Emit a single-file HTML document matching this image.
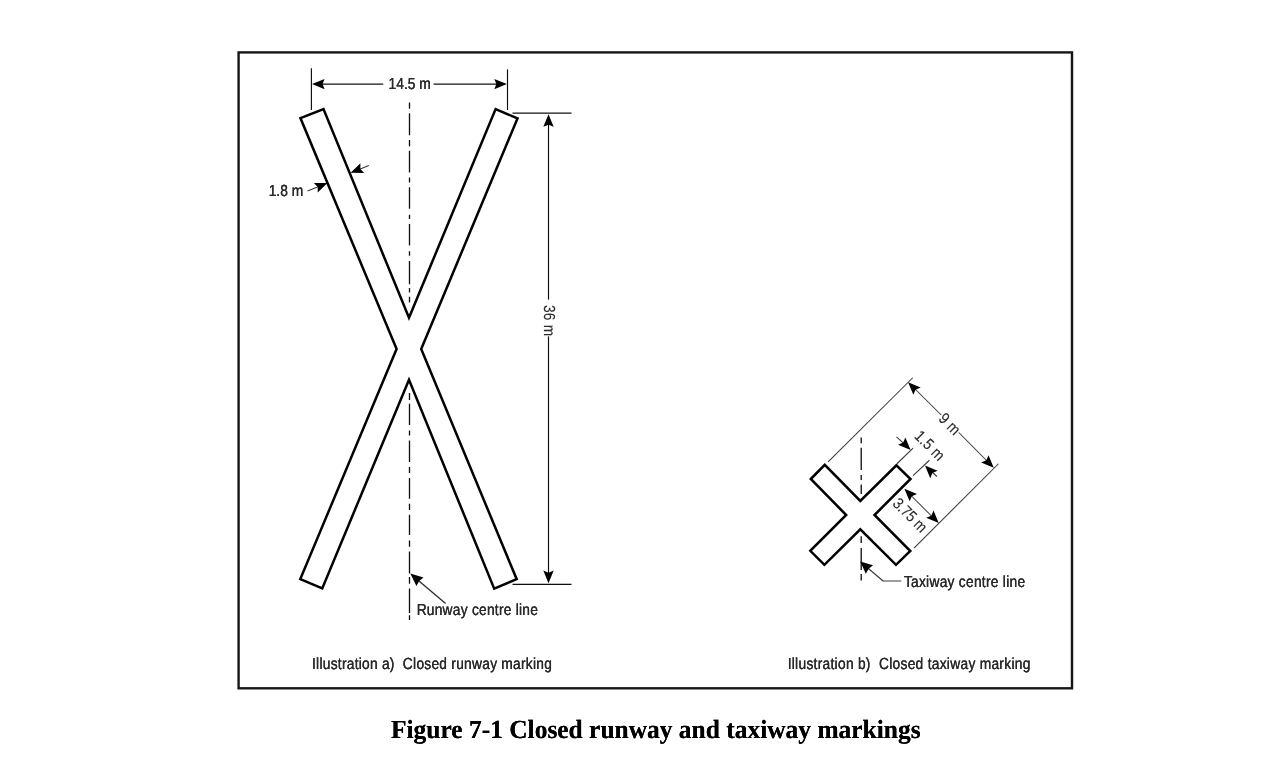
<!DOCTYPE html>
<html lang="en">
<head>
<meta charset="utf-8">
<title>Figure 7-1 Closed runway and taxiway markings</title>
<style>
html,body{margin:0;padding:0;background:#fff;}
body{width:1280px;height:761px;overflow:hidden;}
svg{display:block;}
text{white-space:pre;}
</style>
</head>
<body>
<svg width="1280" height="761" viewBox="0 0 1280 761">
<defs><filter id="rot" x="0" y="0" width="1280" height="761" filterUnits="userSpaceOnUse"><feGaussianBlur stdDeviation="0.5"/></filter><filter id="cap" x="0" y="690" width="1280" height="71" filterUnits="userSpaceOnUse"><feOffset in="SourceGraphic" dx="0.12" dy="0" result="a"/><feOffset in="SourceGraphic" dx="-0.12" dy="0" result="b"/><feMerge result="m"><feMergeNode in="a"/><feMergeNode in="b"/></feMerge><feGaussianBlur in="m" stdDeviation="0.35"/></filter><filter id="ink" x="0" y="0" width="1280" height="761" filterUnits="userSpaceOnUse"><feOffset in="SourceGraphic" dx="0.25" dy="0" result="a"/><feOffset in="SourceGraphic" dx="-0.25" dy="0" result="b"/><feMerge result="m"><feMergeNode in="a"/><feMergeNode in="b"/></feMerge><feGaussianBlur in="m" stdDeviation="0.6"/></filter><filter id="soft" x="0" y="0" width="1280" height="761" filterUnits="userSpaceOnUse"><feGaussianBlur stdDeviation="0.4"/></filter></defs>
<rect width="1280" height="761" fill="#fff"/>
<g filter="url(#soft)">
<rect x="238.6" y="52.4" width="833.4" height="635.9" fill="none" stroke="#161616" stroke-width="2.4"/>
<polygon points="300.45,118.1 323.5,109.05 409,317.8 495.6,109.05 517.5,118.45 421.2,349 516.7,579.2 494.2,588.7 409,379.7 322.25,588.45 300.3,579.05 396.6,349" fill="none" stroke="#000" stroke-width="2.5" stroke-linejoin="miter" />
<path d="M409.5 102.5V108.7 M409.5 113.2V135.2 M409.5 140V146.2 M409.5 150.8V172.4 M409.5 177.5V182.5 M409.5 187.3V208.8 M409.5 214.8V219 M409.5 224V245.6 M409.5 251.2V255.8 M409.5 261V284.3 M409.5 288V292.6 M409.5 296.8V302.5 M409.5 393V400 M409.5 403.8V425 M409.5 430.6V435.6 M409.5 440.6V461.9 M409.5 466.9V473.1 M409.5 478.1V498.7 M409.5 503.7V510 M409.5 514.7V535 M409.5 540.6V546.8 M409.5 551.5V573.4 M409.5 577V583.8 M409.5 588.5V613 M409.5 615.3V620" stroke="#111" stroke-width="1.3" fill="none"/>
<line x1="311.4" y1="68.2" x2="311.4" y2="110" stroke="#111" stroke-width="1.15" />
<line x1="507.5" y1="69.4" x2="507.5" y2="110" stroke="#111" stroke-width="1.15" />
<line x1="318" y1="84.1" x2="383.2" y2="84.1" stroke="#111" stroke-width="1.15" />
<line x1="433.6" y1="84.1" x2="500" y2="84.1" stroke="#111" stroke-width="1.15" />
<line x1="512.5" y1="113.1" x2="571.5" y2="113.1" stroke="#111" stroke-width="1.15" />
<line x1="512.5" y1="584.3" x2="571.5" y2="584.3" stroke="#111" stroke-width="1.15" />
<line x1="548.5" y1="120" x2="548.5" y2="299.6" stroke="#111" stroke-width="1.15" />
<line x1="548.5" y1="336.3" x2="548.5" y2="577" stroke="#111" stroke-width="1.15" />
<line x1="307.5" y1="191" x2="320" y2="186.1" stroke="#383838" stroke-width="1.05" />
<line x1="358" y1="169.9" x2="368.75" y2="165.6" stroke="#383838" stroke-width="1.05" />
<line x1="416" y1="578.4" x2="445.6" y2="603.5" stroke="#2a2a2a" stroke-width="1.3" />
<polygon points="810.8,479 824.75,464.8 860.3,500.9 896.4,465.3 910.5,479 874.5,515 910.3,551 896,564.8 860.3,529.3 824.4,564.8 810.3,550.8 846.2,515" fill="none" stroke="#000" stroke-width="2.5" stroke-linejoin="miter" />
<path d="M861.2 437.5V443.2 M861.2 447.8V470 M861.2 475V480 M861.2 484.4V494 M861.2 536.3V543 M861.2 548V570 M861.2 574V580.5" stroke="#000" stroke-width="1.25" fill="none"/>
<line x1="828.1" y1="461.9" x2="912.75" y2="377.75" stroke="#383838" stroke-width="1.05" />
<line x1="914" y1="548.1" x2="998.5" y2="463.75" stroke="#383838" stroke-width="1.05" />
<line x1="913" y1="387" x2="941.25" y2="415" stroke="#383838" stroke-width="1.05" />
<line x1="958.75" y1="432.5" x2="989" y2="463" stroke="#383838" stroke-width="1.05" />
<line x1="896.9" y1="463.75" x2="913.1" y2="448.1" stroke="#383838" stroke-width="1.05" />
<line x1="913.1" y1="475.6" x2="929.4" y2="460.25" stroke="#383838" stroke-width="1.05" />
<line x1="896.5" y1="436.9" x2="904" y2="443.6" stroke="#383838" stroke-width="1.05" />
<line x1="931" y1="471" x2="936.9" y2="476.5" stroke="#383838" stroke-width="1.05" />
<line x1="909" y1="493.5" x2="934" y2="518.5" stroke="#383838" stroke-width="1.05" />
<line x1="866" y1="566.5" x2="883.1" y2="581" stroke="#3a3a3a" stroke-width="1.2" />
<line x1="882.8" y1="581" x2="901.3" y2="581" stroke="#555" stroke-width="1.15" />
<polygon points="312,84.1 324.6,78.9 322.5,84.1 324.6,89.3" fill="#000"/>
<polygon points="506.9,84.1 494.3,89.3 496.4,84.1 494.3,78.9" fill="#000"/>
<polygon points="548.5,114.2 553.7,126.8 548.5,124.7 543.3,126.8" fill="#000"/>
<polygon points="548.5,583.2 543.3,570.6 548.5,572.7 553.7,570.6" fill="#000"/>
<polygon points="327.5,183.1 317.68,192.56 317.73,186.95 313.87,182.88" fill="#000"/>
<polygon points="350.6,172.75 360.42,163.29 360.37,168.9 364.23,172.97" fill="#000"/>
<polygon points="410.3,573.6 423.49,577.49 419.19,581.06 416.42,585.91" fill="#000"/>
<polygon points="908.1,382.25 920.69,387.48 915.52,389.67 913.33,394.84" fill="#000"/>
<polygon points="993.75,467.75 981.16,462.52 986.33,460.33 988.52,455.16" fill="#000"/>
<polygon points="910.6,450 898.01,444.77 903.18,442.58 905.37,437.41" fill="#000"/>
<polygon points="925,465.6 937.59,470.83 932.42,473.02 930.23,478.19" fill="#000"/>
<polygon points="904.4,488.75 916.99,493.98 911.82,496.17 909.63,501.34" fill="#000"/>
<polygon points="938.75,523.1 926.16,517.87 931.33,515.68 933.52,510.51" fill="#000"/>
<polygon points="860.2,561.5 873.02,565.35 868.65,568.85 865.8,573.65" fill="#000"/>
</g>
<g filter="url(#ink)">
<text transform="translate(389.4 89.4) scale(0.86 1)" x="-1" y="0" font-family='"Liberation Sans", sans-serif' font-size="16" font-weight="normal" fill="#2a2a2a" stroke="#2a2a2a" stroke-width="0.12" textLength="49.07" lengthAdjust="spacing" text-rendering="geometricPrecision" xml:space="preserve">14.5 m</text>
<text transform="translate(269.5 196) scale(0.86 1)" x="-1" y="0" font-family='"Liberation Sans", sans-serif' font-size="16" font-weight="normal" fill="#2a2a2a" stroke="#2a2a2a" stroke-width="0.12" textLength="40.35" lengthAdjust="spacing" text-rendering="geometricPrecision" xml:space="preserve">1.8 m</text>
<text transform="translate(417.5 615) scale(0.86 1)" x="-1" y="0" font-family='"Liberation Sans", sans-serif' font-size="16" font-weight="normal" fill="#2a2a2a" stroke="#2a2a2a" stroke-width="0.12" textLength="140.93" lengthAdjust="spacing" text-rendering="geometricPrecision" xml:space="preserve">Runway centre line</text>
<text transform="translate(312.9 668.5) scale(0.86 1)" x="-1" y="0" font-family='"Liberation Sans", sans-serif' font-size="16" font-weight="normal" fill="#2a2a2a" stroke="#2a2a2a" stroke-width="0.12" textLength="278.84" lengthAdjust="spacing" text-rendering="geometricPrecision" xml:space="preserve">Illustration a)  Closed runway marking</text>
<text transform="translate(788.5 668.5) scale(0.86 1)" x="-1" y="0" font-family='"Liberation Sans", sans-serif' font-size="16" font-weight="normal" fill="#2a2a2a" stroke="#2a2a2a" stroke-width="0.12" textLength="282.21" lengthAdjust="spacing" text-rendering="geometricPrecision" xml:space="preserve">Illustration b)  Closed taxiway marking</text>
<text transform="translate(904.75 586.9) scale(0.86 1)" x="-1" y="0" font-family='"Liberation Sans", sans-serif' font-size="16" font-weight="normal" fill="#2a2a2a" stroke="#2a2a2a" stroke-width="0.12" textLength="140.93" lengthAdjust="spacing" text-rendering="geometricPrecision" xml:space="preserve">Taxiway centre line</text>
</g>
<g filter="url(#rot)">
<text transform="translate(543.6 305.8) rotate(90) scale(0.86 1)" x="-1" y="0" font-family='"Liberation Sans", sans-serif' font-size="16" font-weight="normal" fill="#2a2a2a" stroke="#2a2a2a" stroke-width="0.12" textLength="36.28" lengthAdjust="spacing" text-rendering="geometricPrecision" xml:space="preserve">36 m</text>
<text transform="translate(938.3 420.2) rotate(45) scale(0.86 1)" x="-1" y="0" font-family='"Liberation Sans", sans-serif' font-size="16" font-weight="normal" fill="#2a2a2a" stroke="#2a2a2a" stroke-width="0.12" textLength="26.98" lengthAdjust="spacing" text-rendering="geometricPrecision" xml:space="preserve">9 m</text>
<text transform="translate(914.1 437.5) rotate(45) scale(0.86 1)" x="-1" y="0" font-family='"Liberation Sans", sans-serif' font-size="16" font-weight="normal" fill="#2a2a2a" stroke="#2a2a2a" stroke-width="0.12" textLength="40.93" lengthAdjust="spacing" text-rendering="geometricPrecision" xml:space="preserve">1.5 m</text>
<text transform="translate(892.4 505) rotate(45) scale(0.86 1)" x="-1" y="0" font-family='"Liberation Sans", sans-serif' font-size="16" font-weight="normal" fill="#2a2a2a" stroke="#2a2a2a" stroke-width="0.12" textLength="47.91" lengthAdjust="spacing" text-rendering="geometricPrecision" xml:space="preserve">3.75 m</text>
</g>
<g filter="url(#cap)">
<text transform="translate(391 737.6) scale(1.002 1.03)" x="0" y="0" font-family='"Liberation Serif", serif' font-size="25.4" font-weight="bold" fill="#000" text-rendering="geometricPrecision">Figure 7-1 Closed runway and taxiway markings</text>
</g>
</svg>
</body>
</html>
